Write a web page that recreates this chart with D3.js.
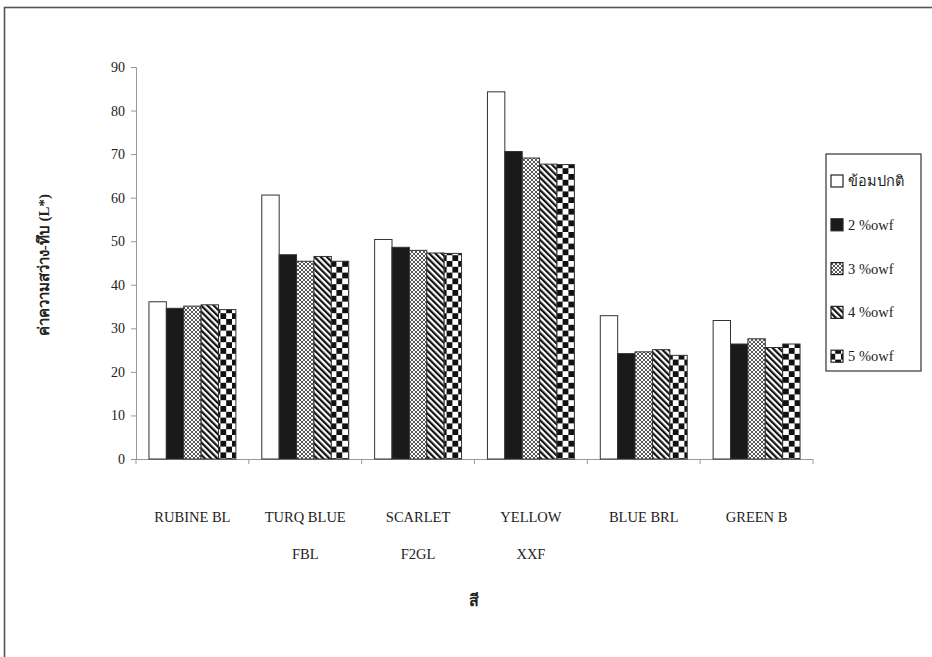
<!DOCTYPE html>
<html>
<head>
<meta charset="utf-8">
<script src="https://cdn.jsdelivr.net/npm/d3@7"></script>
<style>
  html, body { margin: 0; padding: 0; background: #fff; }
  svg { display: block; }
</style>
</head>
<body>
<svg id="chart" width="932" height="657"></svg>
<script>
const categories = [["RUBINE BL"], ["TURQ BLUE", "FBL"], ["SCARLET", "F2GL"], ["YELLOW", "XXF"], ["BLUE BRL"], ["GREEN B"]];
const seriesNames = ["ข้อมปกติ", "2 %owf", "3 %owf", "4 %owf", "5 %owf"];
const normal = [36.1, 60.6, 50.4, 84.3, 32.9, 31.8];
const owf2   = [34.6, 46.9, 48.6, 70.6, 24.2, 26.4];
const owf3   = [35.1, 45.4, 47.9, 69.1, 24.6, 27.6];
const owf4   = [35.4, 46.5, 47.3, 67.7, 25.1, 25.6];
const owf5   = [34.3, 45.4, 47.2, 67.6, 23.8, 26.4];
const yTicks = [0, 10, 20, 30, 40, 50, 60, 70, 80, 90];
const yTitle = "ค่าความสว่าง-ทึบ (L*)";
const xTitle = "สี";

const series = [normal, owf2, owf3, owf4, owf5];
const FONT = "'Liberation Serif', 'Times New Roman', serif";
const svg = d3.select("#chart").attr("font-family", FONT);

// outer frame
svg.append("rect").attr("x", 4.5).attr("y", 7.5).attr("width", 1000).attr("height", 1000)
  .attr("fill", "none").attr("stroke", "#555").attr("stroke-width", 1.6);

// patterns
const defs = svg.append("defs");
const pCross = defs.append("pattern").attr("id", "pCross").attr("patternUnits", "userSpaceOnUse")
  .attr("width", 4).attr("height", 4);
pCross.append("rect").attr("width", 4).attr("height", 4).attr("fill", "#fff");
pCross.append("path").attr("d", "M0,0 L4,4 M4,0 L0,4 M-1,3 L1,5 M3,-1 L5,1 M-1,1 L1,-1 M3,5 L5,3")
  .attr("stroke", "#444").attr("stroke-width", 0.9);

const pDiag = defs.append("pattern").attr("id", "pDiag").attr("patternUnits", "userSpaceOnUse")
  .attr("width", 4.4).attr("height", 4.4).attr("patternTransform", "rotate(-45)");
pDiag.append("rect").attr("width", 4.4).attr("height", 4.4).attr("fill", "#fff");
pDiag.append("rect").attr("width", 2.2).attr("height", 4.4).attr("fill", "#111");

const pCheck = defs.append("pattern").attr("id", "pCheck").attr("patternUnits", "userSpaceOnUse")
  .attr("width", 11.6).attr("height", 11.6);
pCheck.append("rect").attr("width", 11.6).attr("height", 11.6).attr("fill", "#fff");
pCheck.append("rect").attr("x", 0).attr("y", 0).attr("width", 5.8).attr("height", 5.8).attr("fill", "#111");
pCheck.append("rect").attr("x", 5.8).attr("y", 5.8).attr("width", 5.8).attr("height", 5.8).attr("fill", "#111");

const fills = ["#fff", "#1a1a1a", "url(#pCross)", "url(#pDiag)", "url(#pCheck)"];

const x0 = 136, x1 = 813, yBottom = 459, yTop = 67;
const x = d3.scaleBand().domain(d3.range(categories.length)).range([x0, x1]).paddingInner(0).paddingOuter(0);
const xs = d3.scaleBand().domain(d3.range(series.length)).range([0, x.bandwidth()]).paddingInner(0).paddingOuter(0.745);
const y = d3.scaleLinear().domain([0, 90]).range([yBottom, yTop]);

// y axis
const yAxis = svg.append("g").attr("transform", `translate(${x0},0)`)
  .call(d3.axisLeft(y).tickValues(yTicks).tickSize(5).tickPadding(6));
yAxis.attr("font-family", FONT);
yAxis.select(".domain").attr("stroke", "#999");
yAxis.selectAll(".tick line").attr("stroke", "#999");
yAxis.selectAll(".tick text").attr("font-size", 14).attr("fill", "#222");

// x axis
const xAxis = svg.append("g").attr("transform", `translate(0,${yBottom})`);
xAxis.append("line").attr("x1", x0).attr("x2", x1).attr("y1", 0.5).attr("y2", 0.5).attr("stroke", "#999");
xAxis.selectAll("line.tk").data(d3.range(categories.length + 1)).join("line").attr("class", "tk")
  .attr("x1", i => i < categories.length ? x(i) : x1).attr("x2", i => i < categories.length ? x(i) : x1)
  .attr("y1", 0).attr("y2", 5).attr("stroke", "#999");

// bars
series.forEach((vals, si) => {
  svg.append("g").selectAll("rect").data(vals).join("rect")
    .attr("x", (d, ci) => x(ci) + xs(si))
    .attr("y", d => y(d))
    .attr("width", xs.bandwidth())
    .attr("height", d => yBottom - y(d))
    .attr("fill", fills[si])
    .attr("stroke", "#333").attr("stroke-width", 1);
});

// category labels
categories.forEach((lines, ci) => {
  lines.forEach((t, li) => {
    svg.append("text").attr("x", x(ci) + x.bandwidth() / 2).attr("y", 522 + li * 37)
      .attr("text-anchor", "middle").attr("font-size", 14.5).attr("fill", "#222").text(t);
  });
});

// axis titles
svg.append("text").attr("transform", "translate(49,265) rotate(-90)").attr("text-anchor", "middle")
  .attr("font-size", 15).attr("font-weight", "bold").attr("fill", "#222").text(yTitle);
svg.append("text").attr("x", 474).attr("y", 606).attr("text-anchor", "middle")
  .attr("font-size", 16).attr("font-weight", "bold").attr("fill", "#222").text(xTitle);

// legend
const lg = svg.append("g");
lg.append("rect").attr("x", 826).attr("y", 154).attr("width", 95).attr("height", 217)
  .attr("fill", "#fff").attr("stroke", "#333").attr("stroke-width", 1.2);
seriesNames.forEach((n, i) => {
  const cy = 181 + i * 43.8;
  lg.append("rect").attr("x", 831).attr("y", cy - 6).attr("width", 12).attr("height", 12)
    .attr("fill", fills[i]).attr("stroke", "#222").attr("stroke-width", 1.2);
  lg.append("text").attr("x", 848).attr("y", cy + 5).attr("font-size", 14.5).attr("fill", "#222").text(n);
});
</script>
</body>
</html>
